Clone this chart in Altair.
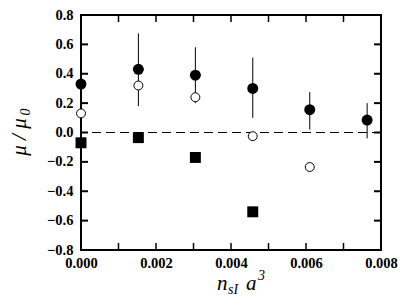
import altair as alt
import pandas as pd

# data
x_pos = [0.0, 0.00153, 0.00305, 0.00458, 0.0061, 0.00763]
filled = [0.33, 0.43, 0.39, 0.30, 0.155, 0.085]
err_hi = [None, 0.675, 0.58, 0.51, 0.275, 0.20]
err_lo = [None, 0.18, 0.20, 0.10, 0.02, -0.04]
open_x = [0.0, 0.00153, 0.00305, 0.00458, 0.0061]
open_y = [0.13, 0.32, 0.24, -0.025, -0.235]
sq_x = [0.0, 0.00153, 0.00305, 0.00458]
sq_y = [-0.07, -0.035, -0.17, -0.54]
x_ticks = [0.0, 0.001, 0.002, 0.003, 0.004, 0.005, 0.006, 0.007, 0.008]
x_labels = [0.0, 0.002, 0.004, 0.006, 0.008]
y_ticks = [-0.8, -0.6, -0.4, -0.2, 0.0, 0.2, 0.4, 0.6, 0.8]

W, H = 300, 235
FONT = "'Liberation Serif', 'Times New Roman', 'DejaVu Serif', serif"

xs = alt.Scale(domain=[0, 0.008], nice=False)
ys = alt.Scale(domain=[-0.8, 0.8], nice=False)

df_f = pd.DataFrame({"x": x_pos, "y": filled})
df_e = pd.DataFrame({"x": x_pos, "lo": err_lo, "hi": err_hi}).dropna()
df_o = pd.DataFrame({"x": open_x, "y": open_y})
df_s = pd.DataFrame({"x": sq_x, "y": sq_y})
df_xt = pd.DataFrame({"x": x_ticks})
df_yt = pd.DataFrame({"y": y_ticks})

x_axis = alt.Axis(values=x_labels, format=".3f", title=None, ticks=False, domain=False,
                  grid=False, labelPadding=6)
y_axis = alt.Axis(values=y_ticks, format=".1f", title=None, ticks=False, domain=False,
                  grid=False, labelPadding=8)

def X(f="x"):
    return alt.X(f + ":Q", scale=xs, axis=x_axis)

def Y(f="y"):
    return alt.Y(f + ":Q", scale=ys, axis=y_axis)

zero = alt.Chart(pd.DataFrame({"y": [0.0]})).mark_rule(
    color="black", strokeWidth=1, strokeDash=[9, 5]).encode(y=Y())

errs = alt.Chart(df_e).mark_rule(color="black", strokeWidth=1).encode(
    x=X(), y=Y("lo"), y2="hi:Q")

pts_f = alt.Chart(df_f).mark_point(shape="circle", filled=True, color="black",
                                    size=120, opacity=1).encode(x=X(), y=Y())
pts_o = alt.Chart(df_o).mark_point(shape="circle", filled=True, fill="white",
                                    stroke="black", strokeWidth=1, size=80,
                                    opacity=1).encode(x=X(), y=Y())
pts_s = alt.Chart(df_s).mark_point(shape="square", filled=True, color="black",
                                    size=120, opacity=1).encode(x=X(), y=Y())

tk = 7
xt_bot = alt.Chart(df_xt).mark_rule(color="black", strokeWidth=1.5).encode(
    x=X(), y=alt.value(H), y2=alt.value(H - tk))
xt_top = alt.Chart(df_xt).mark_rule(color="black", strokeWidth=1.5).encode(
    x=X(), y=alt.value(0), y2=alt.value(tk))
yt_l = alt.Chart(df_yt).mark_rule(color="black", strokeWidth=2).encode(
    y=Y(), x=alt.value(0), x2=alt.value(tk))
yt_r = alt.Chart(df_yt).mark_rule(color="black", strokeWidth=2).encode(
    y=Y(), x=alt.value(W), x2=alt.value(W - tk))

# axis titles as text pieces (positions relative to the plot area)
def txt(s, x, y, size, angle=0, align="left", baseline="alphabetic"):
    return alt.Chart(pd.DataFrame({"t": [s]})).mark_text(
        text=s, font=FONT, fontSize=size, fontStyle="italic",
        color="black", align=align, baseline=baseline, angle=angle).encode(
        x=alt.value(x), y=alt.value(y))

xt_title = (txt("n", 136, 275, 21) + txt("sI", 147, 279, 14) +
            txt("a", 165, 275, 21) + txt("3", 177, 265, 14))
yt_title = (txt("μ / μ", -55, 122, 21, angle=270, align="center") +
            txt("0", -51, 97, 14, angle=270, align="center"))

chart = alt.layer(zero, errs, pts_o, pts_s, pts_f, xt_bot, xt_top, yt_l, yt_r,
                  xt_title, yt_title).properties(
    width=W, height=H,
    autosize=alt.AutoSizeParams(type="none"),
    padding={"left": 73, "top": 7, "right": 20, "bottom": 49},
).configure_view(stroke="black", strokeWidth=2).configure_axis(
    labelFont=FONT, labelFontSize=14.5, labelFontWeight="bold", labelColor="black",
    labelFlush=False, labelOverlap=False)

chart.save("out.html", embed_options={"renderer": "svg", "actions": False})
